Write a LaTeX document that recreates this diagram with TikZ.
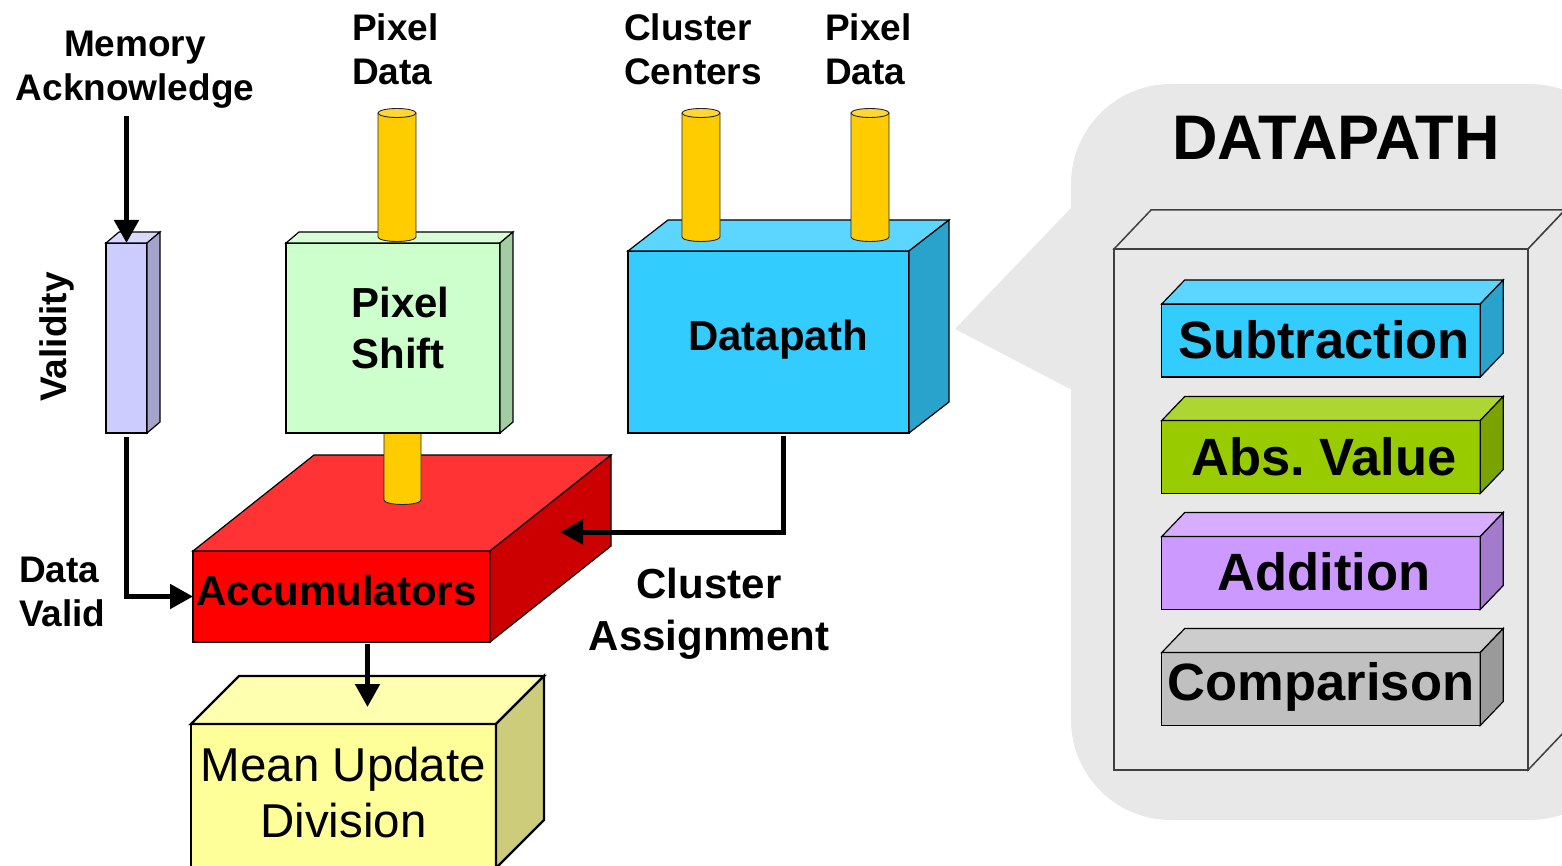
\documentclass[tikz,border=0pt]{standalone}
\usepackage{fontspec}
\setmainfont{Liberation Sans}
\usetikzlibrary{positioning,arrows.meta}

\definecolor{validfront}{HTML}{CCCCFF}
\definecolor{validtop}{HTML}{D9D9FF}
\definecolor{validside}{HTML}{A3A3CC}
\definecolor{shiftfront}{HTML}{CCFFCC}
\definecolor{shifttop}{HTML}{D6FFD6}
\definecolor{shiftside}{HTML}{A3CCA3}
\definecolor{dpfront}{HTML}{33CCFF}
\definecolor{dptop}{HTML}{5CD6FF}
\definecolor{dpside}{HTML}{29A3CC}
\definecolor{accfront}{HTML}{FF0000}
\definecolor{acctop}{HTML}{FF3333}
\definecolor{accside}{HTML}{CC0000}
\definecolor{meanfront}{HTML}{FFFF99}
\definecolor{meantop}{HTML}{FFFFB0}
\definecolor{meanside}{HTML}{CCCC7A}
\definecolor{absfront}{HTML}{99CC00}
\definecolor{abstop}{HTML}{ADD633}
\definecolor{absside}{HTML}{7AA300}
\definecolor{addfront}{HTML}{CC99FF}
\definecolor{addtop}{HTML}{D6ADFF}
\definecolor{addside}{HTML}{A37ACC}
\definecolor{cmpfront}{HTML}{C0C0C0}
\definecolor{cmptop}{HTML}{CDCDCD}
\definecolor{cmpside}{HTML}{9A9A9A}
\definecolor{bubblegray}{HTML}{E8E8E8}
\definecolor{bigfront}{HTML}{E8E8E8}
\definecolor{bigtop}{HTML}{E8E8E8}
\definecolor{bigside}{HTML}{E8E8E8}
\definecolor{cylbody}{HTML}{FFCC00}
\definecolor{cylend}{HTML}{FFD633}

\newcommand{\fsz}[2]{\fontsize{#1}{#2}\selectfont}

% front face as a node, top and side faces drawn from its corners
\newcommand{\prism}[8][]{%
  \node[face, #1, fill=#8front, minimum width=#4pt, minimum height=#5pt] (#2) at (#3) {};
  \filldraw[face, #1, fill=#8top] (#2.north west) -- ++(#6,#7) -- ++(#4,0) -- (#2.north east) -- cycle;
  \filldraw[face, #1, fill=#8side] (#2.north east) -- ++(#6,#7) -- ++(0,#5) -- (#2.south east) -- cycle;
  \coordinate (#2top) at ([shift={(#6/2,#7/2)}]#2.north);
}
% bus: body node between the two end ellipses
\newcommand{\pipe}[4]{%
  \node[pipebody, minimum width=#3pt, minimum height=#4pt] (#1) at (#2) {};
  \filldraw[pipeline, fill=cylbody] (#1.north west) -- (#1.south west)
    arc[start angle=180, end angle=360, x radius={#3pt/2}, y radius=4.5pt] -- (#1.north east);
  \filldraw[pipeline, fill=cylend] (#1.north) ellipse[x radius={#3pt/2}, y radius=4.5pt];
}

\begin{document}
\frenchspacing
\begin{tikzpicture}[
    x=1pt, y=-1pt,
    face/.style={draw=black, line width=1.2pt, inner sep=0pt, outer sep=0pt},
    lbl/.style={inner sep=0pt, font=\fsz{37}{44}\bfseries},
    boxlbl/.style={inner sep=0pt, font=\fsz{42}{51}\bfseries},
    sublbl/.style={inner sep=0pt, anchor=base, font=\fsz{52.5}{60}\bfseries},
    pipebody/.style={fill=cylbody, inner sep=0pt, outer sep=0pt},
    pipeline/.style={draw=black!85, line width=0.9pt},
    sig/.style={line width=5pt, -{Triangle[width=24pt,length=23pt]}}
]
\useasboundingbox (0,0) rectangle (1562,866);
\clip (0,0) rectangle (1562,866);

% callout with the inside of the datapath
\fill[bubblegray, rounded corners=100pt] (1071,84) rectangle (1630,820);
\fill[bubblegray] (1072,207) -- (955,329) -- (1072,390) -- cycle;
\prism[draw=black!75, line width=1.5pt]{big}{1321,509.5}{414}{521}{37}{-39}{big}
\node[inner sep=0pt, anchor=base, font=\fsz{63}{72}\bfseries] (dptitle) at (1336,160) {DATAPATH};

\prism{sub}{1321,340.5}{318.5}{73}{23}{-24}{dp}
\prism{abs}{1321,457}{318.5}{73}{23}{-24}{abs}
\prism{add}{1321,573}{318.5}{73}{23}{-24}{add}
\prism{cmp}{1321,689}{318.5}{73}{23}{-24}{cmp}
\node[sublbl] (subtxt) at ([xshift=3pt,yshift=-17.5pt]sub.center) {Subtraction};
\node[sublbl] (abstxt) at ([xshift=3pt,yshift=-18pt]abs.center) {Abs. Value};
\node[sublbl] (addtxt) at ([xshift=3pt,yshift=-17pt]add.center) {Addition};
\node[sublbl] (cmptxt) at ([yshift=-11pt]cmp.center) {Comparison};

% main blocks
\prism{valid}{126.5,338}{41}{190}{13}{-11}{valid}
\prism{accum}{341.5,596.5}{297}{91}{121}{-96}{acc}
\pipe{pipeacc}{402.5,460}{37}{80}
\prism{shift}{393,338}{214}{190}{13}{-11}{shift}
\prism{dpath}{768.5,342}{281}{182}{40}{-31}{dp}
\prism[line width=2.4pt]{mean}{343.5,796}{305}{144}{48}{-48}{mean}

\pipe{pipepix}{397,175}{38}{124}
\pipe{pipecc}{701,175}{38}{124}
\pipe{pipepix2}{870,175}{38}{124}

\node[boxlbl, align=left] (shifttxt) at ([xshift=7.5pt,yshift=10.5pt]shift.center) {Pixel\\Shift};
\node[boxlbl, anchor=base] (dptxt) at ([xshift=9.5pt,yshift=-8pt]dpath.center) {Datapath};
\node[boxlbl, anchor=base] (acctxt) at ([xshift=-5pt,yshift=-8.5pt]accum.center) {Accumulators};
\node[inner sep=0pt, align=center, font=\fsz{47.5}{56}] (meantxt) at ([yshift=3pt]mean.center) {Mean Update\\Division};

% outside labels
\node[lbl, align=center, anchor=north] (memack) at (135,30.5) {Memory\\Acknowledge};
\node[lbl, align=left, anchor=north west] (pixlbl) at (352,13.5) {Pixel\\Data};
\node[lbl, align=left, anchor=north west] (cclbl) at (624,13.5) {Cluster\\Centers};
\node[lbl, align=left, anchor=north west] (pix2lbl) at (825,13.5) {Pixel\\Data};
\node[lbl, align=left, anchor=north west] (dvlbl) at (19,556.5) {Data\\Valid};
\node[lbl, rotate=90] (vallbl) at (57,337) {Validity};
\node[inner sep=0pt, align=center, anchor=north, font=\fsz{42}{52}\bfseries] (calbl) at (709,568) {Cluster\\Assignment};

% signals
\coordinate (caend) at ([shift={(70,-64.5)}]accum.east);
\draw[sig, shorten <=8pt] (memack.south -| valid.north) -- (valid.north);
\draw[sig, shorten <=4pt] (valid.south) |- (accum.west);
\draw[sig, shorten <=3pt] ([xshift=14.5pt]dpath.south) |- (caend);
\draw[sig, shorten <=2pt, shorten >=-7pt] (accum.south -| meantop) -- (meantop);
\end{tikzpicture}
\end{document}
